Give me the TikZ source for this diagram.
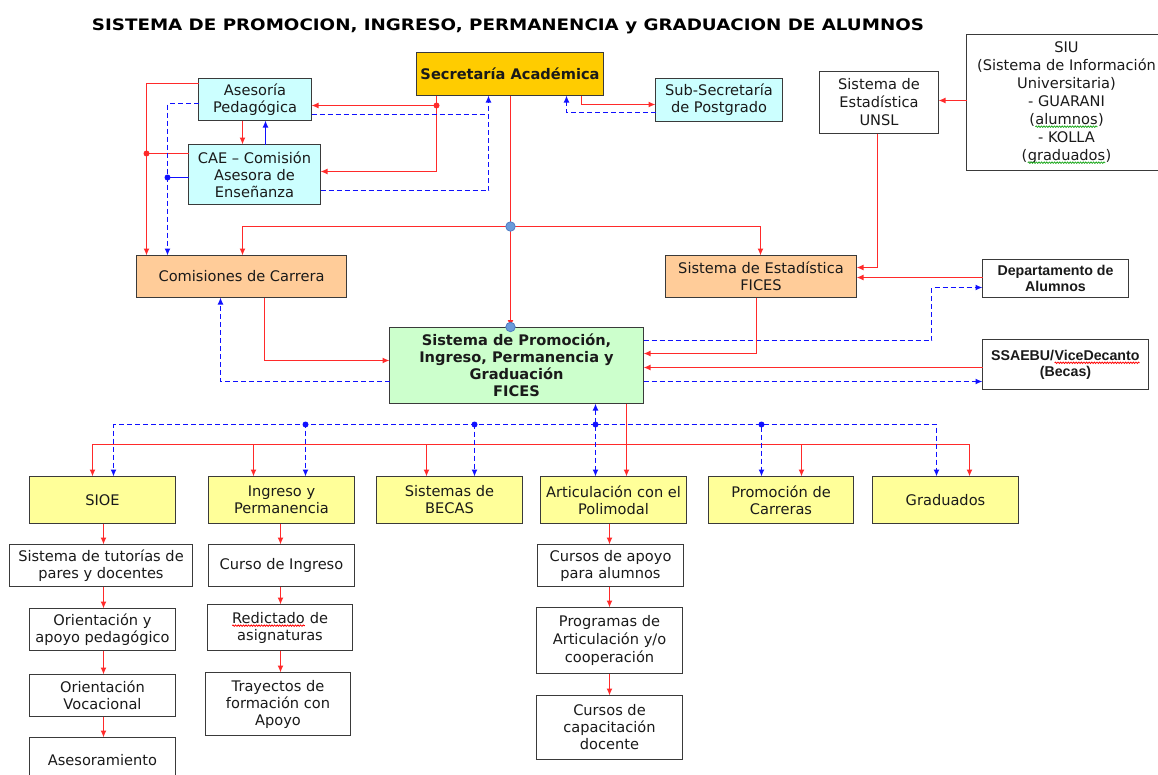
\documentclass[tikz,border=0pt]{standalone}
\usepackage{fontspec}
\usepackage{graphicx}
\setmainfont{DejaVu Sans}
\newfontfamily\arialf{Liberation Sans}
\usetikzlibrary{arrows.meta,calc,decorations.pathmorphing}
\definecolor{redl}{HTML}{FF2A2A}
\definecolor{bluel}{HTML}{1010FF}
\definecolor{bcol}{HTML}{3A3A3A}
\definecolor{tcol}{HTML}{1A1A1A}
\definecolor{goldc}{HTML}{FFCC00}
\definecolor{cyanc}{HTML}{CCFFFF}
\definecolor{peachc}{HTML}{FFCC99}
\definecolor{greenc}{HTML}{CCFFCC}
\definecolor{yellc}{HTML}{FFFF99}
\definecolor{dotc}{HTML}{6A9BDA}
\definecolor{dotb}{HTML}{4A78C0}
\definecolor{spellg}{HTML}{22AA22}
\definecolor{spellr}{HTML}{FF0000}
\newcommand\fsA{\fontsize{14.6}{17}\selectfont}
\newcommand\fsB{\fontsize{14.6}{18}\selectfont}
\newcommand\fsC{\arialf\bfseries\fontsize{14.2}{16}\selectfont}
\newcommand\wavy[2]{\tikz[baseline=(wv.base)]{\node[shape=rectangle, draw=none, fill=none, inner sep=0pt, outer sep=0pt, minimum width=0pt, minimum height=0pt, text=tcol, anchor=base] (wv) at (0,0) {#2};
  \draw[draw=#1, line width=0.8pt, decorate, decoration={snake, amplitude=0.7pt, segment length=2.6pt}] ([yshift=-2.6pt]wv.base west) -- ([yshift=-2.6pt]wv.base east);}}
\begin{document}
\begin{tikzpicture}[x=1pt,y=-1pt,
  nbox/.style={draw=bcol, line width=1.9pt, align=center, inner sep=0pt, outer sep=0pt, text=tcol, font=\fsA},
  rl/.style={draw=redl, line width=1.8pt},
  bl/.style={draw=bluel, line width=1.8pt},
  bd/.style={draw=bluel, line width=1.8pt, dash pattern=on 5pt off 3pt},
  ar/.style={-{Latex[length=7pt,width=6pt]}},
  rdot/.style={circle, fill=redl, inner sep=0pt, minimum size=6pt},
  bdot/.style={circle, fill=bluel, inner sep=0pt, minimum size=6pt},
  bigdot/.style={circle, fill=dotc, draw=dotb, line width=0.7pt, inner sep=0pt, minimum size=9.5pt}]
\useasboundingbox (0,0) rectangle (1158,774);
\clip (0,0) rectangle (1158,774);
\fill[white] (0,0) rectangle (1158,774);

% title
\node[anchor=base, inner sep=0pt] (title) at (508,30) {\resizebox{832pt}{11.7pt}{\bfseries SISTEMA DE PROMOCION, INGRESO, PERMANENCIA y GRADUACION DE ALUMNOS}};

% top boxes
\node[nbox, fill=goldc, minimum width=187, minimum height=43, font=\fsA\bfseries] (sec) at (510,74) {Secretaría Académica};
\node[nbox, fill=cyanc, minimum width=113, minimum height=42] (ases) at (255,99.5) {Asesoría\\Pedagógica};
\node[nbox, fill=cyanc, minimum width=127, minimum height=43] (subsec) at (719,100) {Sub-Secretaría\\de Postgrado};
\node[nbox, fill=white, minimum width=119, minimum height=62, font=\fsB] (unsl) at (879,102.5) {Sistema de\\Estadística\\UNSL};
\node[nbox, fill=white, minimum width=200, minimum height=136, font=\fsB] (siu) at (1066.5,102.5) {SIU\\(Sistema de Información\\Universitaria)\\- GUARANI\\(\wavy{spellg}{alumnos})\\- KOLLA\\(\wavy{spellg}{graduados})};
\node[nbox, fill=cyanc, minimum width=132, minimum height=60] (cae) at (254.5,174.5) {CAE – Comisión\\Asesora de\\Enseñanza};

% middle boxes
\node[nbox, fill=peachc, minimum width=210, minimum height=42] (com) at (241.5,276.5) {Comisiones de Carrera};
\node[nbox, fill=peachc, minimum width=191, minimum height=42] (est) at (761,276.5) {Sistema de Estadística\\FICES};
\node[nbox, fill=white, minimum width=146, minimum height=38, font=\fsC] (dep) at (1055.5,278.5) {Departamento de\\Alumnos};
\node[nbox, fill=greenc, minimum width=254, minimum height=76, font=\fsA\bfseries] (green) at (516.5,365.5) {Sistema de Promoción,\\Ingreso, Permanencia y\\Graduación\\FICES};
\node[nbox, fill=white, minimum width=166, minimum height=50, font=\fsC] (ssa) at (1065.5,364.5) {SSAEBU/\wavy{spellr}{ViceDecanto}\\(Becas)};

% row of yellow boxes
\node[nbox, fill=yellc, minimum width=146, minimum height=47] (sioe) at (102.5,500) {SIOE};
\node[nbox, fill=yellc, minimum width=146, minimum height=47] (ing) at (281.5,500) {Ingreso y\\Permanencia};
\node[nbox, fill=yellc, minimum width=146, minimum height=47] (bec) at (449.5,500) {Sistemas de\\BECAS};
\node[nbox, fill=yellc, minimum width=146, minimum height=47] (art) at (613.5,500) {Articulación con el\\Polimodal};
\node[nbox, fill=yellc, minimum width=145, minimum height=47] (pro) at (781,500) {Promoción de\\Carreras};
\node[nbox, fill=yellc, minimum width=146, minimum height=47] (gra) at (945.5,500) {Graduados};

% lower white boxes
\node[nbox, fill=white, minimum width=183, minimum height=42] (tut) at (101,565.5) {Sistema de tutorías de\\pares y docentes};
\node[nbox, fill=white, minimum width=146, minimum height=42] (ori) at (102.5,629.5) {Orientación y\\apoyo pedagógico};
\node[nbox, fill=white, minimum width=146, minimum height=42] (voc) at (102.5,695.5) {Orientación\\Vocacional};
\node[nbox, fill=white, minimum width=146, minimum height=45] (ase) at (102.5,760) {Asesoramiento};
\node[nbox, fill=white, minimum width=146, minimum height=42] (cur) at (281.5,565.5) {Curso de Ingreso};
\node[nbox, fill=white, minimum width=145, minimum height=46] (redi) at (280,627.5) {\wavy{spellr}{Redictado} de\\asignaturas};
\node[nbox, fill=white, minimum width=145, minimum height=63] (tra) at (278,704) {Trayectos de\\formación con\\Apoyo};
\node[nbox, fill=white, minimum width=146, minimum height=42] (cap) at (610.5,565.5) {Cursos de apoyo\\para alumnos};
\node[nbox, fill=white, minimum width=146, minimum height=66, font=\fsB] (prog) at (609.5,640.5) {Programas de\\Articulación y/o\\cooperación};
\node[nbox, fill=white, minimum width=146, minimum height=64] (ccap) at (609.5,727.5) {Cursos de\\capacitación\\docente};

% junction coordinates
\coordinate (d1) at (436.5,105.5);
\coordinate (d2) at (146.5,153.5);
\coordinate (d3) at (167.5,177.5);
\coordinate (jt) at (510.5,226.5);
\coordinate (jg) at (510.5,327);
\coordinate (rj) at (626.5,444.5);
\coordinate (bj) at (595.5,424.5);

% upper-left connectors
\draw[rl,ar] (sec.south -| d1) |- (cae.east |- 0,171.5);
\draw[rl,ar] (d1) -- (ases.east |- d1);
\draw[rl,ar] (ases.west |- 0,83.5) -| (146.5,0 |- com.north);
\draw[rl] (cae.west |- d2) -- (d2);
\draw[rl,ar] (242.5,0 |- ases.south) -- (242.5,0 |- cae.north);
\draw[bl,ar] (265.5,0 |- cae.north) -- (265.5,0 |- ases.south);
\draw[bl] (cae.west |- d3) -- (d3);
\draw[bd,ar] (ases.west |- 0,103.5) -| (167.5,0 |- com.north);
\draw[bd] (ases.east |- 0,114.5) -- (488.5,114.5);
\draw[bd,ar] (cae.east |- 0,190.5) -| (488.5,0 |- sec.south);
\draw[rl,ar] (581.5,0 |- sec.south) |- (subsec.west |- 0,104.5);
\draw[bd,ar] (subsec.west |- 0,112.5) -| (566.5,0 |- sec.south);

% trunk
\draw[rl,ar] (sec.south -| jt) -- (jg);
\draw[rl,ar] (jt) -| (242.5,0 |- com.north);
\draw[rl,ar] (jt) -| (760.5,0 |- est.north);

% right side
\draw[rl,ar] (siu.west |- 0,100.5) -- (unsl.east |- 0,100.5);
\draw[rl,ar] (877.5,0 |- unsl.south) |- (est.east |- 0,267.5);
\draw[rl,ar] (dep.west |- 0,277.5) -- (est.east |- 0,277.5);
\draw[bd,ar] (green.east |- 0,340.5) -- (931.5,340.5) |- (dep.west |- 0,287.5);
\draw[rl,ar] (756.5,0 |- est.south) |- (green.east |- 0,353.5);
\draw[rl,ar] (ssa.west |- 0,367.5) -- (green.east |- 0,367.5);
\draw[bd,ar] (green.east |- 0,381.5) -- (ssa.west |- 0,381.5);
\draw[rl,ar] (264.5,0 |- com.south) |- (green.west |- 0,360.5);
\draw[bd,ar] (green.west |- 0,381.5) -| (220.5,0 |- com.south);

% distribution to the row
\draw[rl,ar] (626.5,0 |- green.south) -- (626.5,0 |- art.north);
\foreach \x/\n in {92.5/sioe, 253.5/ing, 426.5/bec, 801.5/pro, 969.5/gra}
  \draw[rl,ar] (rj) -| (\x,0 |- \n.north);
\draw[bd,{Latex[length=7pt,width=6pt]}-{Latex[length=7pt,width=6pt]}] (595.5,0 |- green.south) -- (595.5,0 |- art.north);
\foreach \x/\n in {113.5/sioe, 305.5/ing, 474.5/bec, 761.5/pro, 936.5/gra}
  \draw[bd,ar] (bj) -| (\x,0 |- \n.north);

% chains
\draw[rl,ar] (103.5,0 |- sioe.south) -- (103.5,0 |- tut.north);
\draw[rl,ar] (103.5,0 |- tut.south) -- (103.5,0 |- ori.north);
\draw[rl,ar] (103.5,0 |- ori.south) -- (103.5,0 |- voc.north);
\draw[rl,ar] (103.5,0 |- voc.south) -- (103.5,0 |- ase.north);
\draw[rl,ar] (280.5,0 |- ing.south) -- (280.5,0 |- cur.north);
\draw[rl,ar] (280.5,0 |- cur.south) -- (280.5,0 |- redi.north);
\draw[rl,ar] (280.5,0 |- redi.south) -- (280.5,0 |- tra.north);
\draw[rl,ar] (609.5,0 |- art.south) -- (609.5,0 |- cap.north);
\draw[rl,ar] (609.5,0 |- cap.south) -- (609.5,0 |- prog.north);
\draw[rl,ar] (609.5,0 |- prog.south) -- (609.5,0 |- ccap.north);

% dots on top
\node[rdot] (dd1) at (d1) {};
\node[rdot] (dd2) at (d2) {};
\node[bdot] (dd3) at (d3) {};
\node[bigdot] (djt) at (jt) {};
\node[bigdot] (djg) at (jg) {};
\node[bdot] (db1) at (305.5,424.5) {};
\node[bdot] (db2) at (474.5,424.5) {};
\node[bdot] (db3) at (bj) {};
\node[bdot] (db4) at (761.5,424.5) {};
\end{tikzpicture}
\end{document}
